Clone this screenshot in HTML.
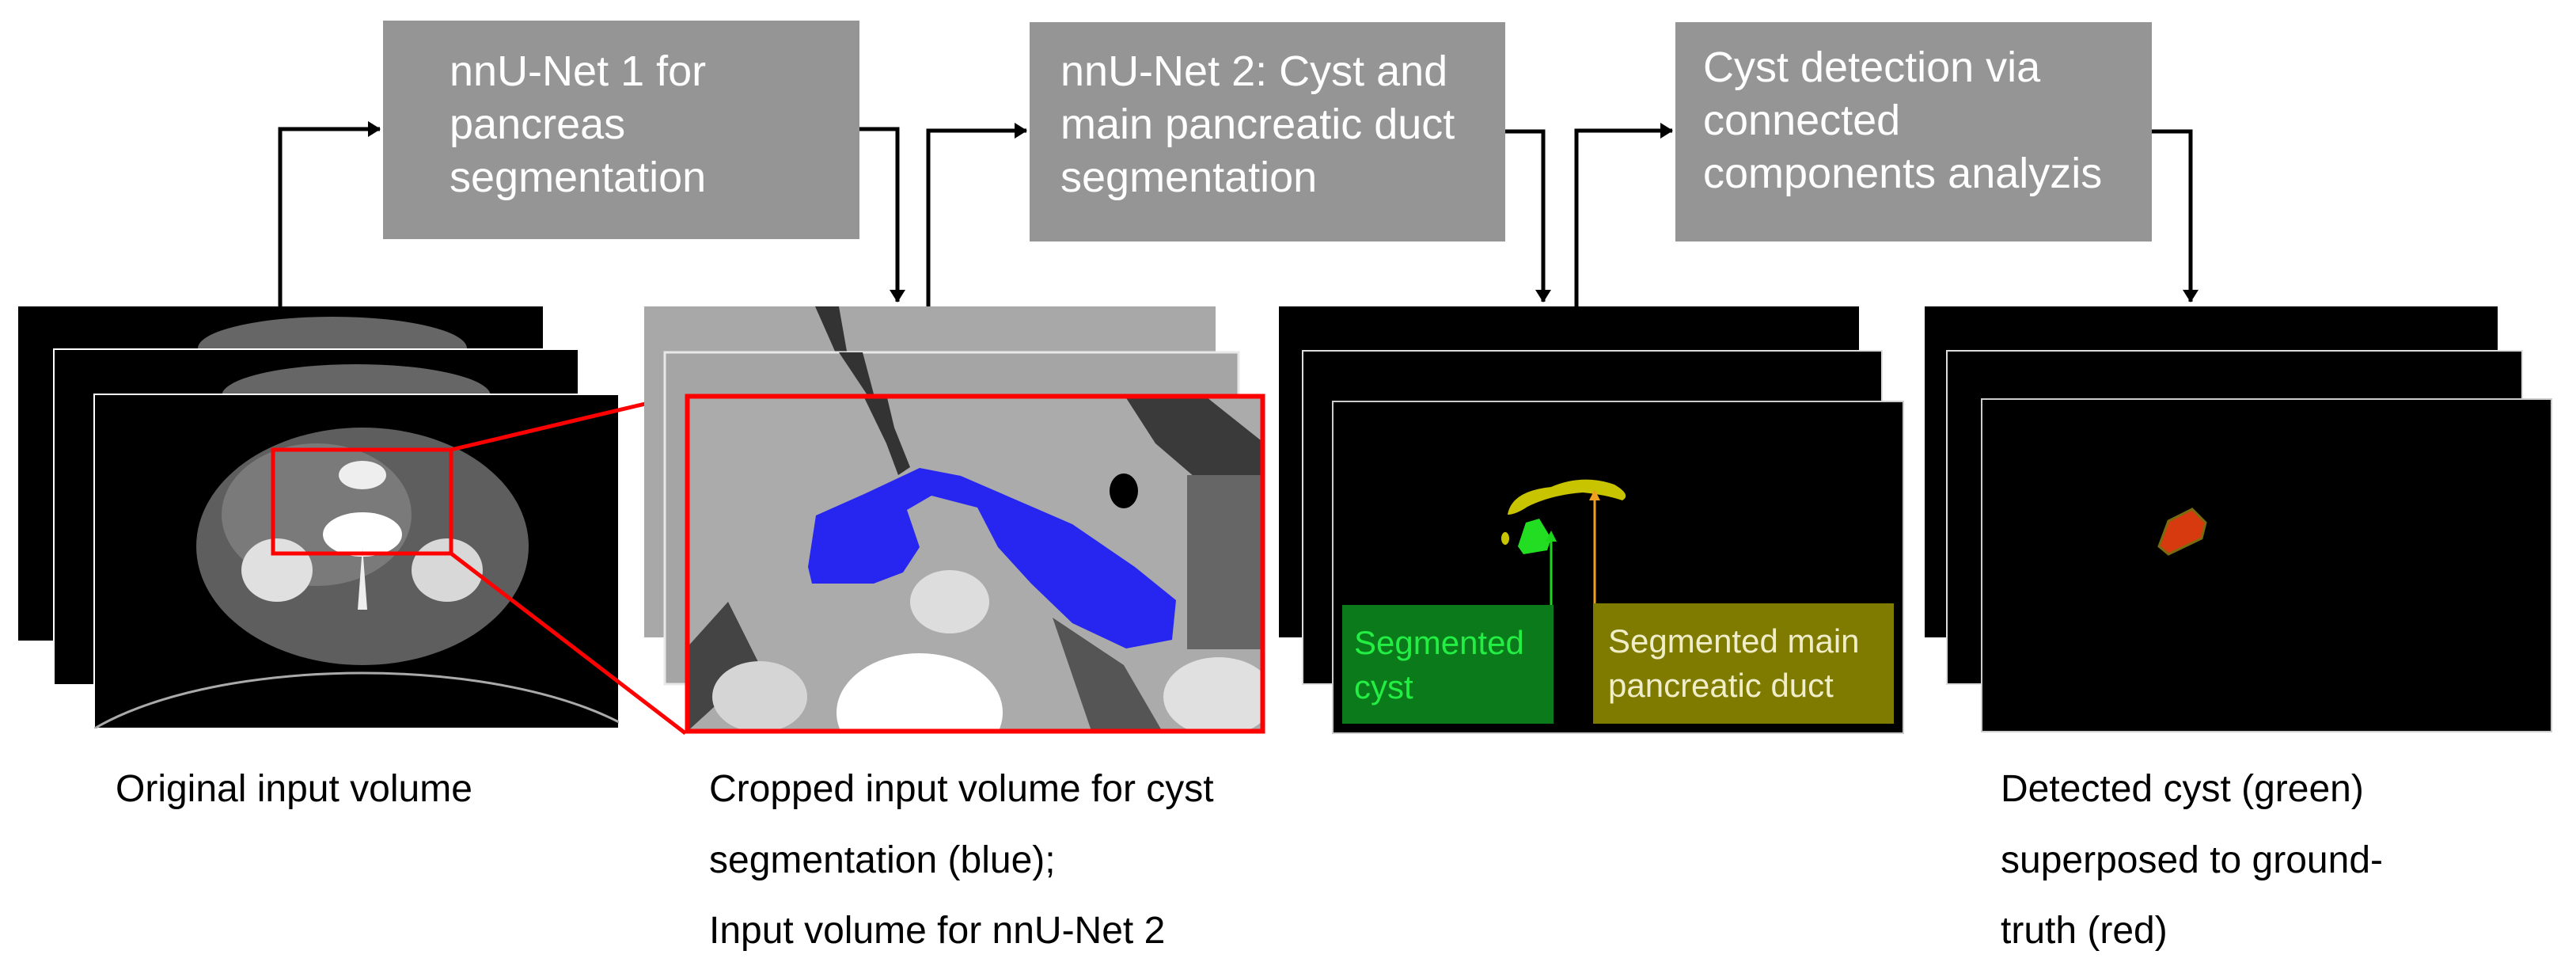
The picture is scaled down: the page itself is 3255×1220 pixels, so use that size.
<!DOCTYPE html>
<html><head><meta charset="utf-8"><style>
html,body{margin:0;padding:0;background:#fff;}
svg{display:block;}
text{font-family:"Liberation Sans",sans-serif;}
</style></head><body>
<svg width="3255" height="1220" viewBox="0 0 3255 1220" xmlns="http://www.w3.org/2000/svg">
<defs>
<marker id="ahb" markerWidth="16" markerHeight="20" refX="15" refY="10" orient="auto" markerUnits="userSpaceOnUse"><path d="M0,0 L16,10 L0,20 z" fill="#000"/></marker>
<clipPath id="cropc"><rect x="866" y="498" width="732" height="428"/></clipPath>
<clipPath id="c1"><rect x="119" y="498" width="663" height="422"/></clipPath>
</defs>

<rect x="484" y="26" width="602" height="276" fill="#959595"/>
<rect x="1301" y="28" width="601" height="277" fill="#959595"/>
<rect x="2117" y="28" width="602" height="277" fill="#959595"/>
<g fill="#fff" font-size="54">
<text x="568" y="108">nnU-Net  1 for</text>
<text x="568" y="175">pancreas</text>
<text x="568" y="242">segmentation</text>
<text x="1340" y="108">nnU-Net  2: Cyst and</text>
<text x="1340" y="175">main pancreatic duct</text>
<text x="1340" y="242">segmentation</text>
<text x="2152" y="103">Cyst detection via</text>
<text x="2152" y="170">connected</text>
<text x="2152" y="237">components  analyzis</text>
</g>

<g stroke="#000" stroke-width="5" fill="none">
<path d="M354,387 V163 H480" marker-end="url(#ahb)"/>
<path d="M1086,163 H1134 V381" marker-end="url(#ahb)"/>
<path d="M1173,387 V165 H1297" marker-end="url(#ahb)"/>
<path d="M1902,166 H1950 V381" marker-end="url(#ahb)"/>
<path d="M1992,387 V165 H2113" marker-end="url(#ahb)"/>
<path d="M2719,166 H2768 V381" marker-end="url(#ahb)"/>
</g>

<rect x="23" y="387" width="663" height="422" fill="#000"/>
<ellipse cx="420" cy="440" rx="170" ry="40" fill="#666"/>
<rect x="68" y="441" width="663" height="424" fill="#000" stroke="#fff" stroke-width="2"/>
<ellipse cx="450" cy="500" rx="170" ry="40" fill="#666"/>
<rect x="119" y="498" width="663" height="422" fill="#000" stroke="#fff" stroke-width="2"/>
<g clip-path="url(#c1)">
<ellipse cx="458" cy="690" rx="210" ry="150" fill="#5e5e5e"/>
<ellipse cx="400" cy="650" rx="120" ry="90" fill="#7a7a7a"/>
<ellipse cx="350" cy="720" rx="45" ry="40" fill="#e0e0e0"/>
<ellipse cx="565" cy="720" rx="45" ry="40" fill="#d8d8d8"/>
<ellipse cx="458" cy="675" rx="50" ry="28" fill="#fff"/>
<ellipse cx="458" cy="600" rx="30" ry="18" fill="#eee"/>
<path d="M458,690 L452,770 L464,770 z" fill="#eee"/>
<ellipse cx="458" cy="1000" rx="400" ry="150" fill="none" stroke="#aaa" stroke-width="3"/>
</g>
<rect x="345" y="568" width="225" height="131" fill="none" stroke="#f00" stroke-width="5"/>
<line x1="570" y1="568" x2="866" y2="498" stroke="#f00" stroke-width="5"/>
<line x1="570" y1="699" x2="866" y2="926" stroke="#f00" stroke-width="5"/>

<rect x="814" y="387" width="722" height="418" fill="#a8a8a8"/>
<path d="M1030,387 L1080,500 L1060,387 z" fill="#333"/>
<rect x="840" y="445" width="725" height="419" fill="#a5a5a5" stroke="#e8e8e8" stroke-width="3"/>
<path d="M1060,445 L1110,520 L1090,445 z" fill="#333"/>
<rect x="866" y="498" width="732" height="428" fill="#ababab"/>
<g clip-path="url(#cropc)">
<path d="M1090,498 L1120,560 L1135,600 L1150,590 L1130,540 L1120,498 z" fill="#333"/>
<path d="M1420,498 L1460,560 L1530,620 L1598,700 L1598,560 L1520,498 z" fill="#3a3a3a"/>
<rect x="1500" y="600" width="98" height="220" fill="#666"/>
<ellipse cx="1420" cy="620" rx="18" ry="22" fill="#000"/>
<path d="M866,820 L920,760 L960,840 L866,926 z" fill="#444"/>
<ellipse cx="1200" cy="760" rx="50" ry="40" fill="#ddd"/>
<ellipse cx="1540" cy="880" rx="70" ry="50" fill="#e0e0e0"/>
<ellipse cx="960" cy="880" rx="60" ry="45" fill="#d5d5d5"/>
<path d="M1330,780 L1420,840 L1470,926 L1380,926 z" fill="#555"/>
<ellipse cx="1162" cy="900" rx="105" ry="75" fill="#fff"/>
<path d="M1031,651 L1094,623 L1162,591 L1214,601 L1355,662 L1434,716 L1486,758 L1481,808 L1423,819 L1355,787 L1303,737 L1261,691 L1235,641 L1177,626 L1146,644 L1162,691 L1141,723 L1104,737 L1026,737 L1021,716 z" fill="#2626f0"/>
</g>
<rect x="868.5" y="500.5" width="727" height="423" fill="none" stroke="#f00" stroke-width="6"/>

<rect x="1616" y="387" width="733" height="418" fill="#000"/>
<rect x="1646" y="443" width="732" height="421" fill="#000" stroke="#ddd" stroke-width="2"/>
<rect x="1684" y="507" width="721" height="419" fill="#000" stroke="#ccc" stroke-width="2"/>
<path d="M1905,650 Q1910,620 1960,615 Q2000,598 2040,612 Q2062,625 2050,632 Q2030,625 2000,622 Q1960,625 1930,640 Q1915,650 1905,650 z" fill="#c8c400"/>
<ellipse cx="1902" cy="680" rx="5" ry="8" fill="#c8c400"/>
<path d="M1918,690 L1928,660 L1945,655 L1960,680 L1955,695 L1925,700 z" fill="#22dd22"/>
<line x1="1960" y1="764" x2="1960" y2="682" stroke="#1bd61b" stroke-width="3"/>
<path d="M1953,684 L1960,670 L1967,684 z" fill="#1bd61b"/>
<line x1="2015" y1="762" x2="2015" y2="630" stroke="#f0a020" stroke-width="3"/>
<path d="M2008,632 L2015,618 L2022,632 z" fill="#f0a020"/>
<rect x="1696" y="764" width="267" height="150" fill="#0a7a1a"/>
<rect x="2013" y="762" width="380" height="152" fill="#7f7a00"/>
<g font-size="42">
<text x="1711" y="826" fill="#22ee44">Segmented</text>
<text x="1711" y="882" fill="#22ee44">cyst</text>
<text x="2032" y="824" fill="#f0eec8">Segmented  main</text>
<text x="2032" y="880" fill="#f0eec8">pancreatic  duct</text>
</g>

<rect x="2432" y="387" width="724" height="418" fill="#000"/>
<rect x="2460" y="443" width="727" height="421" fill="#000" stroke="#ddd" stroke-width="2"/>
<rect x="2504" y="504" width="720" height="420" fill="#000" stroke="#ccc" stroke-width="2"/>
<path d="M2728,690 L2740,658 L2770,643 L2787,660 L2782,680 L2740,700 z" fill="#d83a10" stroke="#7a6a10" stroke-width="3"/>

<g fill="#000" font-size="48">
<text x="146" y="1012">Original input volume</text>
<text x="896" y="1012">Cropped input volume for cyst</text>
<text x="896" y="1102">segmentation (blue);</text>
<text x="896" y="1191">Input volume for nnU-Net 2</text>
<text x="2528" y="1012">Detected cyst (green)</text>
<text x="2528" y="1102">superposed to ground-</text>
<text x="2528" y="1191">truth (red)</text>
</g>
</svg>
</body></html>
